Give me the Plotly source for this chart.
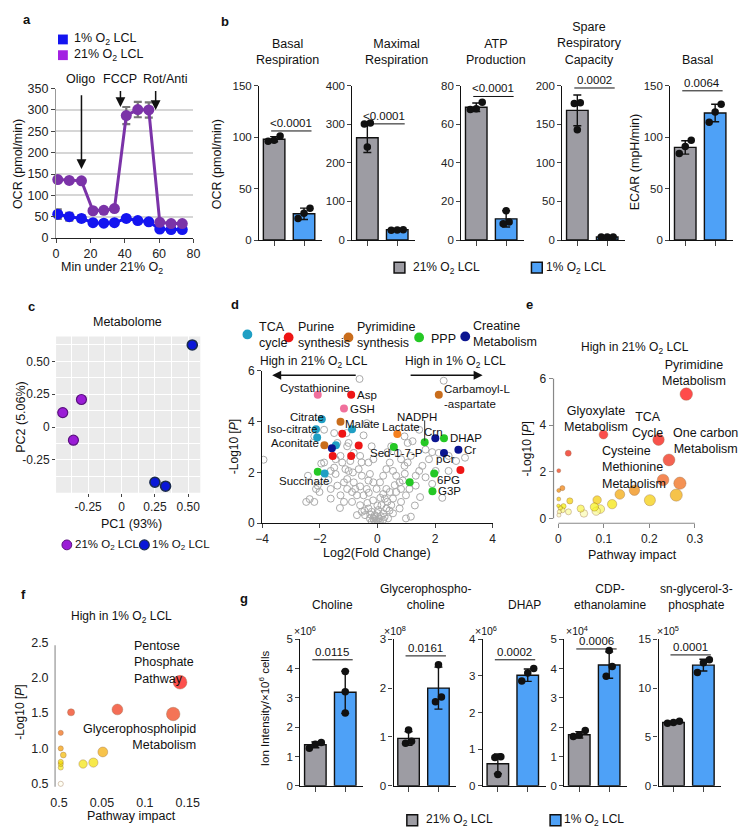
import plotly.graph_objects as go
import numpy as np

W, H = 745, 840
FONT = "Liberation Sans, Arial, Helvetica, sans-serif"
def X(p): return p / W
def Y(p): return 1 - p / H

# ---------------- DATA ----------------
# panel a: Seahorse OCR trace
a_time = [1, 7.7, 14.8, 21.5, 27.8, 34, 40.9, 47.6, 54, 60.4, 67, 73.5]
a_ocr21 = [137, 135, 134, 64, 65, 69, 287, 301, 300, 37, 34, 34]
a_err21 = [5, 4, 4, 4, 4, 4, 20, 18, 18, 4, 3, 3]
a_ocr1 = [56, 50, 46, 36, 35, 36, 46, 41, 38, 21, 20, 20]
a_err1 = [11, 9, 7, 3, 3, 3, 3, 3, 3, 3, 3, 3]
a_inj_names = ["Oligo", "FCCP", "Rot/Anti"]
a_inj_times = [14.8, 37.5, 58]
a_inj_tail = [338, 348, 348]
a_inj_head = [162, 307, 300]

# panel b: bar charts
b_titles = ["Basal<br>Respiration", "Maximal<br>Respiration", "ATP<br>Production",
            "Spare<br>Respiratory<br>Capacity", "Basal"]
b_mean21 = [98, 265, 68.8, 168, 90]
b_sd21 = [2.5, 38, 2.2, 20, 6.5]
b_pts21 = [[101, 97, 96], [303, 301, 241], [71.4, 68, 67.7], [178, 177, 143], [97, 91, 84]]
b_mean1 = [25.5, 27, 11, 4, 123.5]
b_sd1 = [5.5, 1.5, 4.2, 1, 8.5]
b_pts1 = [[31, 21, 26], [27, 25.5, 26], [15.2, 9.3, 8.5], [4, 4, 4], [132, 124.5, 114.5]]
b_ymax = [150, 400, 80, 200, 150]
b_dtick = [50, 100, 20, 50, 50]
b_pval = ["<0.0001", "<0.0001", "<0.0001", "0.0002", "0.0064"]
b_pline = [106, 301, 74.4, 197, 145]

# panel c: PCA
c_pc1_21 = [-0.30, -0.44, -0.36]
c_pc2_21 = [0.21, 0.11, -0.10]
c_pc1_1 = [0.25, 0.33, 0.53]
c_pc2_1 = [-0.42, -0.45, 0.625]

# panel d: volcano
d_gray = [(-0.62,5.68),(2.30,5.61),(-1.07,3.55),(-0.37,3.94),(-0.48,3.46),(-0.2,3.03),(-1.0,3.16),
(-0.31,2.39),(-0.14,2.52),(0.48,3.03),(0.94,3.42),(1.05,3.16),(1.45,3.68),(1.67,2.9),(2.13,2.77),
(2.47,2.65),(2.73,2.45),(2.47,2.06),(3.04,2.58),(1.48,1.03),(1.16,0.26),(-3.95,2.5),(-2.47,0.84),
(-2.13,1.35),(-2.07,1.48),(-1.62,2.06),(-1.5,2.19),(-1.45,1.94),(-1.11,2.13),(-1.0,2.06),(-0.94,2.45),
(-1.05,1.74),(-1.62,1.35),(-1.39,1.48),(-1.05,1.35),(-0.82,1.61),(-0.77,1.35),(-0.71,1.1),(-1.62,0.97),
(-1.28,1.1),(-1.16,0.84),(-0.88,0.84),(-0.6,0.71),(-0.48,1.1),(-0.37,1.35),(-0.31,1.68),(-0.54,1.87),
(-0.65,2.13),(-0.26,1.94),(-0.14,1.61),(-0.03,1.35),(0.09,1.61),(0.2,1.87),(0.31,2.13),(0.43,2.39),
(0.54,2.06),(0.65,1.87),(0.77,1.61),(0.88,1.68),(0.65,1.23),(0.54,0.97),(0.43,1.23),(0.31,1.35),
(0.26,0.97),(0.14,0.71),(0.03,0.52),(-0.09,0.32),(-0.14,0.19),(-0.03,0.13),(0.06,0.19),(-0.2,0.45),
(-0.31,0.58),(-0.43,0.32),(-0.54,0.45),(-0.71,0.32),(-0.26,0.19),(0.2,0.39),(0.31,0.58),(0.48,0.71),
(0.82,0.84),(0.99,1.1),(0.82,1.35),(0.2,0.13),(-0.11,0.1),(-0.2,0.06),(0.09,0.06),(0.37,0.19),
(0.54,0.39),(0.77,0.58),(0.99,0.19),(-0.88,1.23),(-1.16,1.61),(-1.85,2.39),(-1.45,2.52),(-1.28,2.65),
(-1.22,2.39),(-0.82,2.77),(-0.6,2.65),(-1.39,3.16),(-1.85,3.68),(-1.5,3.55),(-1.05,3.03),(-2.19,3.42),
(-2.41,1.87),(-2.01,1.23),(-2.19,0.84),(1.22,3.23),(1.16,2.65),(1.33,1.87),(1.56,2.26),(1.79,2.52),
(2.02,2.06),(1.05,2.39),(0.82,2.52),(0.71,2.77),(0.94,2.26),(1.67,1.81),(1.11,1.35),(1.33,1.48),
(1.45,2.06),(-0.05,0.02),(0.05,0.03),(-0.1,0.25),(0.12,0.28),(0.0,0.4),(-0.25,0.35),(0.25,0.25),
(-0.35,0.8),(0.35,0.85),(-0.15,0.9),(0.1,1.0),(-0.6,1.45),(0.6,1.5),(0.0,0.7),(-0.45,0.5),(0.42,0.5),
(-1.3,0.6),(1.3,0.7),(-0.3,1.2),(0.2,1.15),(-0.85,2.0),(0.95,1.95),(-1.7,1.7),(1.9,1.55),(-2.35,0.95),
(2.25,1.0),(-1.95,2.35),(0.35,2.8),(-0.55,2.4),(1.9,2.8)]
d_gray_x = [p[0] for p in d_gray]
d_gray_y = [p[1] for p in d_gray]

d_sig_x = [-2.07, -0.91, -1.16, -1.28, -0.88, -1.93, -2.13, -2.09, -1.84, -1.22, -1.44, -1.58,
           -1.55, -0.91, -0.65, -2.07, -1.83, 2.13, 0.69, 1.64, 2.01, 2.31, 2.81, 2.31, 0.57,
           1.97, 2.88, 1.91, 1.12]
d_sig_y = [5.06, 5.06, 4.52, 4.00, 3.70, 4.09, 3.70, 3.38, 3.07, 3.52, 3.07, 2.95,
           2.65, 2.65, 3.06, 2.03, 1.96, 5.06, 3.51, 3.19, 3.35, 3.35, 2.89, 2.77, 3.00,
           1.96, 2.10, 1.26, 1.61]
d_sig_cat = ["other_pink", "purine", "other_pink", "pyrimidine", "tca", "tca", "tca", "tca",
             "pyrimidine", "purine", "tca", "creatine", "purine", "purine", "purine", "ppp", "tca",
             "pyrimidine", "glycolysis", "ppp", "creatine", "ppp", "creatine", "creatine", "ppp",
             "ppp", "purine", "ppp", "ppp"]
d_labels = ["Cystathionine", "Asp", "GSH", "Citrate", "Iso-citrate", "Malate", "Aconitate",
            "Succinate", "Carbamoyl-L<br>-aspartate", "NADPH", "Lactate", "Crn", "DHAP", "Cr",
            "pCr", "Sed-1-7-P", "6PG", "G3P"]
d_legend_names = ["TCA<br>cycle", "Purine<br>synthesis", "Pyrimidine<br>synthesis", "PPP",
                  "Creatine<br>Metabolism"]

# panel e: pathway analysis (high in 21%)
e_impact = [0.281, 0.099, 0.220, 0.243, 0.0215, 0.0007, 0.0086, 0.0007, 0.230, 0.267, 0.259,
            0.167, 0.135, 0.118, 0.201, 0.085, 0.092, 0.083, 0.079, 0.049, 0.056, 0.025, 0.0007,
            0.0, 0.004, 0.011, 0.009, 0.022, 0.002, 0.001]
e_logp = [5.34, 3.60, 3.38, 2.51, 2.80, 2.05, 1.30, 1.20, 1.65, 1.51, 1.00, 1.21, 1.03, 0.61,
          0.78, 0.79, 0.40, 0.31, 0.49, 0.42, 0.21, 0.75, 0.83, 0.54, 0.45, 0.52, 0.35, 0.28,
          0.28, 0.14]

# panel f: pathway analysis (high in 1%)
f_impact = [0.141, 0.133, 0.068, 0.014, 0.002, 0.002, 0.005, 0.051, 0.040, 0.028, 0.002,
            0.002, 0.002, 0.002]
f_logp = [1.935, 1.486, 1.55, 1.51, 1.22, 1.0, 0.907, 0.95, 0.80, 0.78, 0.81, 0.78, 0.73, 0.5]

# panel g: metabolite bars
g_titles = ["Choline", "Glycerophospho-<br>choline", "DHAP", "CDP-<br>ethanolamine",
            "sn-glycerol-3-<br>phosphate"]
g_exp = ["×10<sup>6</sup>", "×10<sup>8</sup>", "×10<sup>6</sup>", "×10<sup>4</sup>", "×10<sup>5</sup>"]
g_mean21 = [1.40, 0.97, 0.60, 1.74, 6.48]
g_sd21 = [0.10, 0.14, 0.27, 0.11, 0.10]
g_pts21 = [[1.28, 1.48, 1.42], [1.14, 0.87, 0.91], [0.79, 0.77, 0.31], [1.89, 1.68, 1.73], [6.6, 6.48, 6.4]]
g_mean1 = [3.19, 2.0, 3.02, 4.12, 12.35]
g_sd1 = [0.72, 0.43, 0.17, 0.45, 0.6]
g_pts1 = [[3.90, 3.21, 2.48], [2.48, 1.72, 1.82], [3.2, 3.08, 2.86], [4.62, 4.07, 3.74], [12.9, 12.6, 11.6]]
g_ymax = [5, 3, 4, 5, 15]
g_dtick = [1, 1, 1, 1, 5]
g_pval = ["0.0115", "0.0161", "0.0002", "0.0006", "0.0001"]
g_pline = [4.3, 2.66, 3.44, 4.67, 13.4]

# ---------------- STYLE ----------------
GRAY = "#9d9ca3"
LBLUE = "#4ea1f7"
PURPLE_A = "#7b33a8"
PURPLE_LEG = "#a321e2"
BLUE_A = "#1414f0"
CAT_COL = {"tca": "#1f9fc4", "purine": "#ee1515", "pyrimidine": "#c96d1c", "ppp": "#25c825",
           "creatine": "#0b1590", "other_pink": "#f0709c", "glycolysis": "#f5801f"}
LEG_COL = ["#1f9fc4", "#ee1515", "#c96d1c", "#25c825", "#0b1590"]
O2 = "O<sub>2</sub>"

fig = go.Figure()
layout_axes = {}
annotations = []
shapes = []

def add_axes(n, xl, xr, yt, yb, xa, ya):
    sx = '' if n == 1 else str(n)
    xa = dict(xa); ya = dict(ya)
    xa.update(domain=[X(xl), X(xr)], anchor='y' + sx)
    ya.update(domain=[Y(yb), Y(yt)], anchor='x' + sx)
    layout_axes['xaxis' + sx] = xa
    layout_axes['yaxis' + sx] = ya
    return 'x' + sx, 'y' + sx

def ann(text, x, y, size=12, xa='center', ya='middle', angle=0, bold=False, align='center',
        color='#111', xref='paper', yref='paper'):
    if bold:
        text = '<b>' + text + '</b>'
    if xref == 'paper':
        x = X(x)
    if yref == 'paper':
        y = Y(y)
    annotations.append(dict(text=text, x=x, y=y, xref=xref, yref=yref, xanchor=xa, yanchor=ya,
                            textangle=angle, showarrow=False, align=align,
                            font=dict(size=size, color=color, family=FONT)))

def sq(cx, cy, s, color, lw=1.5):
    shapes.append(dict(type='rect', xref='paper', yref='paper', x0=X(cx - s / 2), x1=X(cx + s / 2),
                       y0=Y(cy + s / 2), y1=Y(cy - s / 2), fillcolor=color,
                       line=dict(color='#111', width=lw)))

def circ(cx, cy, r, color, lc=None, lw=0):
    shapes.append(dict(type='circle', xref='paper', yref='paper', x0=X(cx - r), x1=X(cx + r),
                       y0=Y(cy + r), y1=Y(cy - r), fillcolor=color,
                       line=dict(color=lc or color, width=lw)))

def tf(s=12):
    return dict(size=s, color='#222', family=FONT)

def jitter(pts, ymax):
    n = len(pts)
    thr = 0.07 * ymax
    idx = sorted(range(n), key=lambda i: pts[i])
    groups, cur = [], [idx[0]]
    for i in idx[1:]:
        if pts[i] - pts[cur[-1]] < thr:
            cur.append(i)
        else:
            groups.append(cur)
            cur = [i]
    groups.append(cur)
    offs = [0.0] * n
    for g in groups:
        k = len(g)
        for j, i in enumerate(g):
            offs[i] = (j - (k - 1) / 2) * 0.2
    return offs

# ---------------- PANEL A ----------------
xa, ya = add_axes(1, 50, 190, 83, 235,
    dict(range=[0, 80], dtick=20, ticks='outside', ticklen=4, showline=True, linecolor='#222',
         linewidth=1.2, showgrid=False, zeroline=False, tickfont=tf(12.5)),
    dict(range=[0, 350], dtick=50, ticks='outside', ticklen=4, showline=True, linecolor='#999',
         linewidth=1.2, showgrid=True, gridcolor='#d6d6d6', gridwidth=1.5, zeroline=False,
         tickfont=tf(12.5)))
fig.add_trace(go.Scatter(x=a_time, y=a_ocr1, mode='lines+markers', line=dict(color=BLUE_A, width=3),
                         marker=dict(size=11, color=BLUE_A),
                         error_y=dict(type='data', array=a_err1, color='#777', thickness=2.2, width=4),
                         xaxis=xa, yaxis=ya, showlegend=False, cliponaxis=False))
fig.add_trace(go.Scatter(x=a_time, y=a_ocr21, mode='lines+markers', line=dict(color=PURPLE_A, width=3),
                         marker=dict(size=11, color=PURPLE_A),
                         error_y=dict(type='data', array=a_err21, color='#777', thickness=2.2, width=4),
                         xaxis=xa, yaxis=ya, showlegend=False, cliponaxis=False))
for name, t, tail, head, tx in zip(a_inj_names, a_inj_times, a_inj_tail, a_inj_head, [75, 115, 161]):
    annotations.append(dict(x=t, y=head, ax=t, ay=tail, xref=xa, yref=ya, axref=xa, ayref=ya,
                            text='', showarrow=True, arrowhead=2, arrowsize=1.3, arrowwidth=1.5,
                            arrowcolor='#111'))
    ann(name, tx, 73, size=12.5)
ann("OCR (pmol/min)", 12, 160, size=12.5, angle=-90)
ann("Min under 21% " + O2, 107, 265, size=12.5)
sq(57, 33, 10, BLUE_A, lw=0)
sq(57, 49, 10, PURPLE_LEG, lw=0)
ann("1% " + O2 + " LCL", 66, 33, size=12.5, xa='left')
ann("21% " + O2 + " LCL", 66, 49, size=12.5, xa='left')
ann("a", 20, 13, size=13, bold=True)

# ---------------- BAR PANEL HELPER ----------------
def bar_panel(n, left, top, bottom, m21, s21, p21, m1, s1, p1, ymax, dtick, ptxt, pline, tfs=11.5):
    xa, ya = add_axes(n, left, left + 64, top, bottom,
        dict(range=[-0.5, 1.6], tickvals=[0, 1], ticktext=['', ''], ticks='outside', ticklen=5,
             tickwidth=1.3, showline=True, linecolor='#111', linewidth=1.3, showgrid=False, zeroline=False),
        dict(range=[0, ymax], dtick=dtick, ticks='outside', ticklen=4, tickwidth=1.3, showline=True,
             linecolor='#111', linewidth=1.3, showgrid=False, zeroline=False, tickfont=tf(tfs)))
    for xi, m, s, col in [(0, m21, s21, GRAY), (1, m1, s1, LBLUE)]:
        fig.add_trace(go.Bar(x=[xi], y=[m], width=0.72, marker=dict(color=col, line=dict(color='#111', width=1.4)),
                             error_y=dict(type='data', array=[s], color='#111', thickness=1.4, width=4),
                             xaxis=xa, yaxis=ya, showlegend=False))
    for xi, pts in [(0, p21), (1, p1)]:
        offs = jitter(pts, ymax)
        fig.add_trace(go.Scatter(x=[xi + o for o in offs], y=pts, mode='markers',
                                 marker=dict(size=7.5, color='#111'), xaxis=xa, yaxis=ya,
                                 showlegend=False, cliponaxis=False))
    shapes.append(dict(type='line', xref=xa, yref=ya, x0=-0.1, x1=1.25, y0=pline, y1=pline,
                       line=dict(color='#111', width=1)))
    ann(ptxt, 0.57, pline, size=11.5, ya='bottom', xref=xa, yref=ya)
    return xa, ya

# ---------------- PANEL B ----------------
b_left = [257, 352, 463, 566, 676]
b_tx = [286, 397, 498, 594, 704]
for i in range(5):
    bar_panel(2 + i, b_left[i], 80, 237, b_mean21[i], b_sd21[i], b_pts21[i], b_mean1[i], b_sd1[i],
              b_pts1[i], b_ymax[i], b_dtick[i], b_pval[i], b_pline[i])
    ann(b_titles[i], b_tx[i], 63, size=12.5, ya='bottom')
ann("OCR (pmol/min)", 214, 160, size=12.5, angle=-90)
ann("ECAR (mpH/min)", 640, 157, size=12.5, angle=-90)
sq(400, 265, 11, GRAY)
ann("21% " + O2 + " LCL", 412, 265, size=12, xa='left')
sq(540, 265, 11, LBLUE)
ann("1% " + O2 + " LCL", 547, 265, size=12, xa='left')
ann("b", 222, 15, size=13, bold=True)

# ---------------- PANEL C ----------------
xa, ya = add_axes(7, 50, 197, 335, 494,
    dict(range=[-0.49, 0.59], tickvals=[-0.25, 0, 0.25, 0.5], ticktext=['-0.25', '0', '0.25', '0.50'],
         ticks='outside', ticklen=3, tickcolor='#444', showgrid=True, gridcolor='white', gridwidth=1.3,
         minor=dict(tickvals=[-0.375, -0.125, 0.125, 0.375], showgrid=True, gridcolor='white',
                    gridwidth=0.6, ticks=''),
         zeroline=False, showline=False, tickfont=tf(12)),
    dict(range=[-0.5, 0.69], tickvals=[-0.25, 0, 0.25, 0.5], ticktext=['-0.25', '0', '0.25', '0.50'],
         ticks='outside', ticklen=3, tickcolor='#444', showgrid=True, gridcolor='white', gridwidth=1.3,
         minor=dict(tickvals=[-0.375, -0.125, 0.125, 0.375, 0.625], showgrid=True, gridcolor='white',
                    gridwidth=0.6, ticks=''),
         zeroline=False, showline=False, tickfont=tf(12)))
shapes.append(dict(type='rect', xref='x7 domain', yref='y7 domain', x0=0, x1=1, y0=0, y1=1,
                   fillcolor='#ebebeb', line=dict(width=0), layer='below'))
fig.add_trace(go.Scatter(x=c_pc1_21, y=c_pc2_21, mode='markers',
                         marker=dict(size=10, color='#9a1cd6', line=dict(color='#5b1180', width=1.2)),
                         xaxis=xa, yaxis=ya, showlegend=False))
fig.add_trace(go.Scatter(x=c_pc1_1, y=c_pc2_1, mode='markers',
                         marker=dict(size=10, color='#0a17d8', line=dict(color='#1b2c4e', width=1.6)),
                         xaxis=xa, yaxis=ya, showlegend=False))
ann("Metabolome", 123, 320, size=12.5)
ann("PC1 (93%)", 127, 526, size=12.5)
ann("PC2 (5.06%)", 14, 417, size=12.5, angle=-90)
circ(61, 547, 5, '#9a1cd6', '#5b1180', 1)
ann("21% " + O2 + " LCL", 67, 547, size=11.5, xa='left')
circ(140, 547, 5, '#0a17d8', '#1b2c4e', 1.2)
ann("1% " + O2 + " LCL", 146, 547, size=11.5, xa='left')
ann("c", 25, 305, size=13, bold=True)

# ---------------- PANEL D ----------------
xa, ya = add_axes(8, 260, 495, 370, 525,
    dict(range=[-4, 4], dtick=2, ticks='outside', ticklen=4, showline=True, linecolor='#111',
         linewidth=1.2, showgrid=False, zeroline=False, tickfont=tf(12)),
    dict(range=[0, 6], dtick=2, ticks='outside', ticklen=4, showline=True, linecolor='#111',
         linewidth=1.2, showgrid=False, zeroline=False, tickfont=tf(12)))
fig.add_trace(go.Scatter(x=d_gray_x, y=d_gray_y, mode='markers',
                         marker=dict(size=7, color='rgba(0,0,0,0)', line=dict(color='#aaaaaa', width=1)),
                         xaxis=xa, yaxis=ya, showlegend=False))
fig.add_trace(go.Scatter(x=d_sig_x, y=d_sig_y, mode='markers',
                         marker=dict(size=8, color=[CAT_COL[c] for c in d_sig_cat]),
                         xaxis=xa, yaxis=ya, showlegend=False))
d_lab_pos = [(-2.18, 5.33, 'center'), (-0.78, 5.06, 'left'), (-1.02, 4.49, 'left'),
             (-1.78, 4.17, 'right'), (-2.0, 3.70, 'right'), (-1.18, 3.9, 'left'),
             (-1.96, 3.14, 'right'), (-2.53, 1.68, 'center'), (2.25, 5.0, 'left'),
             (1.36, 4.19, 'center'), (0.82, 3.77, 'center'), (1.96, 3.61, 'center'),
             (2.44, 3.35, 'left'), (2.93, 2.89, 'left'), (2.36, 2.52, 'center'),
             (0.65, 2.75, 'center'), (2.47, 1.72, 'center'), (2.03, 1.26, 'left')]
for txt, (lx, ly, al) in zip(d_labels, d_lab_pos):
    annotations.append(dict(text=txt, x=lx, y=ly, xref=xa, yref=ya, xanchor=al, yanchor='middle',
                            showarrow=False, align='left', font=dict(size=11.5, color='#111', family=FONT)))
shapes.append(dict(type='line', xref=xa, yref=ya, x0=1.64, x1=1.64, y0=4.05, y1=3.25,
                   line=dict(color='#333', width=1)))
annotations.append(dict(x=-3.65, y=5.83, ax=-0.7, ay=5.83, xref=xa, yref=ya, axref=xa, ayref=ya,
                        text='', showarrow=True, arrowhead=2, arrowsize=1.2, arrowwidth=1.5, arrowcolor='#111'))
annotations.append(dict(x=3.65, y=5.83, ax=1.1, ay=5.83, xref=xa, yref=ya, axref=xa, ayref=ya,
                        text='', showarrow=True, arrowhead=2, arrowsize=1.2, arrowwidth=1.5, arrowcolor='#111'))
ann("High in 21% " + O2 + " LCL", 313, 361, size=12)
ann("High in 1% " + O2 + " LCL", 457, 361, size=12)
ann("-Log10 [<i>P</i>]", 231, 447, size=12, angle=-90)
ann("Log2(Fold Change)", 377, 555, size=12.5)
leg_c = [(245, 333), (287, 336), (348, 336), (420, 336), (467, 335)]
leg_t = [(255, 334), (295, 334), (355, 334), (430, 338), (473, 333)]
for (cx, cy), (tx, ty), col, nm in zip(leg_c, leg_t, LEG_COL, d_legend_names):
    circ(cx, cy, 5, col)
    ann(nm, tx, ty, size=12.5, xa='left', align='left')
ann("d", 232, 303, size=13, bold=True)

# ---------------- PANEL E ----------------
e_cs = [[0, '#fffff0'], [0.08, '#fafa90'], [0.13, '#f5f000'], [0.22, '#f5c000'], [0.3, '#f08800'],
        [0.4, '#f05a10'], [0.55, '#f02a10'], [0.75, '#f01000'], [1, '#ff0000']]
xa, ya = add_axes(9, 557, 715, 370, 525,
    dict(range=[-0.0108, 0.330], tickvals=[0, 0.1, 0.2, 0.3], ticktext=['0', '0.1', '0.2', '0.3'],
         ticks='outside', ticklen=4, tickcolor='#888', showline=False, showgrid=False, zeroline=False,
         tickfont=tf(12)),
    dict(range=[-0.21, 6.34], tickvals=[0, 2, 4, 6], ticks='outside', ticklen=4, tickcolor='#888',
         showline=False, showgrid=False, zeroline=False, tickfont=tf(12)))
e_sizes = 3.5 + 17 * np.sqrt(np.array(e_impact))
order = np.argsort(e_sizes)[::-1]
fig.add_trace(go.Scatter(x=[e_impact[i] for i in order], y=[e_logp[i] for i in order], mode='markers',
                         marker=dict(size=e_sizes[order], color=[e_logp[i] for i in order],
                                     colorscale=e_cs, cmin=0, cmax=4,
                                     line=dict(color='rgba(110,50,0,0.55)', width=0.7)),
                         xaxis=xa, yaxis=ya, showlegend=False, cliponaxis=False))
shapes.append(dict(type='line', xref='paper', yref='paper', x0=X(562), x1=X(701), y0=Y(525), y1=Y(525),
                   line=dict(color='#888', width=1.2)))
shapes.append(dict(type='line', xref='paper', yref='paper', x0=X(557), x1=X(557), y0=Y(520), y1=Y(378),
                   line=dict(color='#888', width=1.2)))
ann("High in 21% " + O2 + " LCL", 640, 347, size=12)
ann("Pathway impact", 637, 557, size=12.5)
ann("-Log10 [<i>P</i>]", 529, 450, size=12, angle=-90)
ann("Pyrimidine<br>Metabolism", 700, 372, size=12.5)
ann("Glyoxylate<br>Metabolism", 600, 419, size=12.5)
ann("TCA<br>Cycle", 653, 425, size=12.5)
ann("One carbon<br>Metabolism", 712, 441, size=12.5)
ann("Cysteine<br>Methionine<br>Metabolism", 604, 468, size=12.5, xa='left', align='left')
ann("e", 532, 303, size=13, bold=True)

# ---------------- PANEL F ----------------
f_cs = [[0, '#fffff0'], [0.12, '#f5f530'], [0.2, '#f5e000'], [0.32, '#f5a000'], [0.5, '#f06010'],
        [0.7, '#f03010'], [1, '#ff0000']]
xa, ya = add_axes(10, 49, 200, 640, 800,
    dict(range=[-0.0046, 0.168], tickvals=[0, 0.05, 0.1, 0.15], ticktext=['0.5', '0.05', '0.1', '0.15'],
         ticks='', showline=False, showgrid=False, zeroline=False, tickfont=tf(12.5)),
    dict(range=[0.361, 2.583], tickvals=[0.5, 1.0, 1.5, 2.0, 2.5],
         ticktext=['0.5', '1.0', '1.5', '2.0', '2.5'], ticks='outside', ticklen=3, tickcolor='white',
         showline=False, showgrid=False, zeroline=False, tickfont=tf(12.5)))
f_sizes = 4 + 26 * np.sqrt(np.array(f_impact))
order = np.argsort(f_sizes)[::-1]
fig.add_trace(go.Scatter(x=[f_impact[i] for i in order], y=[f_logp[i] for i in order], mode='markers',
                         marker=dict(size=f_sizes[order], color=[f_logp[i] for i in order],
                                     colorscale=f_cs, cmin=0.5, cmax=2.0,
                                     line=dict(color='rgba(110,50,0,0.55)', width=0.7)),
                         xaxis=xa, yaxis=ya, showlegend=False, cliponaxis=False))
shapes.append(dict(type='line', xref='paper', yref='paper', x0=X(49), x1=X(49), y0=Y(793), y1=Y(649),
                   line=dict(color='#aaa', width=1.5)))
ann("High in 1% " + O2 + " LCL", 117, 620, size=12)
ann("Pathway impact", 127, 823, size=12.5)
ann("-Log10 [<i>P</i>]", 13, 717, size=12, angle=-90)
ann("Pentose<br>Phosphate<br>Pathway", 127, 667, size=12.5, xa='left', align='left')
ann("Glycerophospholipid<br>Metabolism", 195, 742, size=12.5, xa='right', align='right')
ann("f", 17, 597, size=13, bold=True)

# ---------------- PANEL G ----------------
g_left = [299, 394, 485, 568, 664]
g_tx = [332, 427, 527, 615, 703]
g_ex = [290, 382, 475, 568, 660]
for i in range(5):
    bar_panel(11 + i, g_left[i], 643, 792, g_mean21[i], g_sd21[i], g_pts21[i], g_mean1[i], g_sd1[i],
              g_pts1[i], g_ymax[i], g_dtick[i], g_pval[i], g_pline[i])
    ann(g_titles[i], g_tx[i], 617, size=12, ya='bottom')
    ann(g_exp[i], g_ex[i], 634, size=10.5, xa='left')
ann("Ion Intensity/×10<sup>6</sup> cells", 262, 713, size=11.5, angle=-90)
sq(413, 827, 11, GRAY)
ann("21% " + O2 + " LCL", 425, 827, size=12, xa='left')
sq(559, 827, 11, LBLUE)
ann("1% " + O2 + " LCL", 566, 827, size=12, xa='left')
ann("g", 242, 602, size=13, bold=True)

fig.update_layout(width=W, height=H, margin=dict(l=0, r=0, t=0, b=0), paper_bgcolor='white',
                  plot_bgcolor='white', font=dict(family=FONT, size=12, color='#111'),
                  annotations=annotations, shapes=shapes, barmode='overlay', **layout_axes)
fig.write_html("out.html")
